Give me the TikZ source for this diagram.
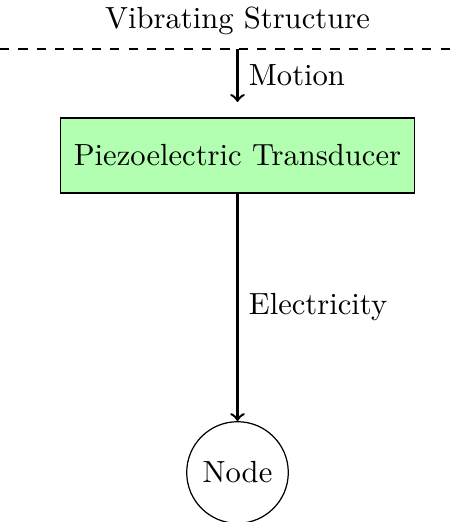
\documentclass[tikz,border=0pt]{standalone}
\begin{document}
\begin{tikzpicture}[x=0.3268pt,y=-0.3268pt,
  box/.style={draw, fill=green!30, minimum width=115.8pt, minimum height=24.5pt, inner sep=3.33pt},
  circ/.style={draw, circle, minimum size=33.2pt, inner sep=0pt},
  flow/.style={thick,->}]
\useasboundingbox (0,0) rectangle (458,522);
\node (vs) at (237.5,21) {Vibrating Structure};
\coordinate (L) at (0,49);
\coordinate (R) at (458,49);
\draw[dashed] (L) -- (R);
\coordinate (top) at (237.5,49);
\coordinate (mend) at (237.5,102);
\node[box] (pt) at (237.5,155.5) {Piezoelectric Transducer};
\node[circ] (nd) at (237.5,472.5) {Node};
\draw[flow] (top) -- node[right] {Motion} (mend);
\draw[flow] (pt) -- node[right] {Electricity} (nd);
\end{tikzpicture}
\end{document}
